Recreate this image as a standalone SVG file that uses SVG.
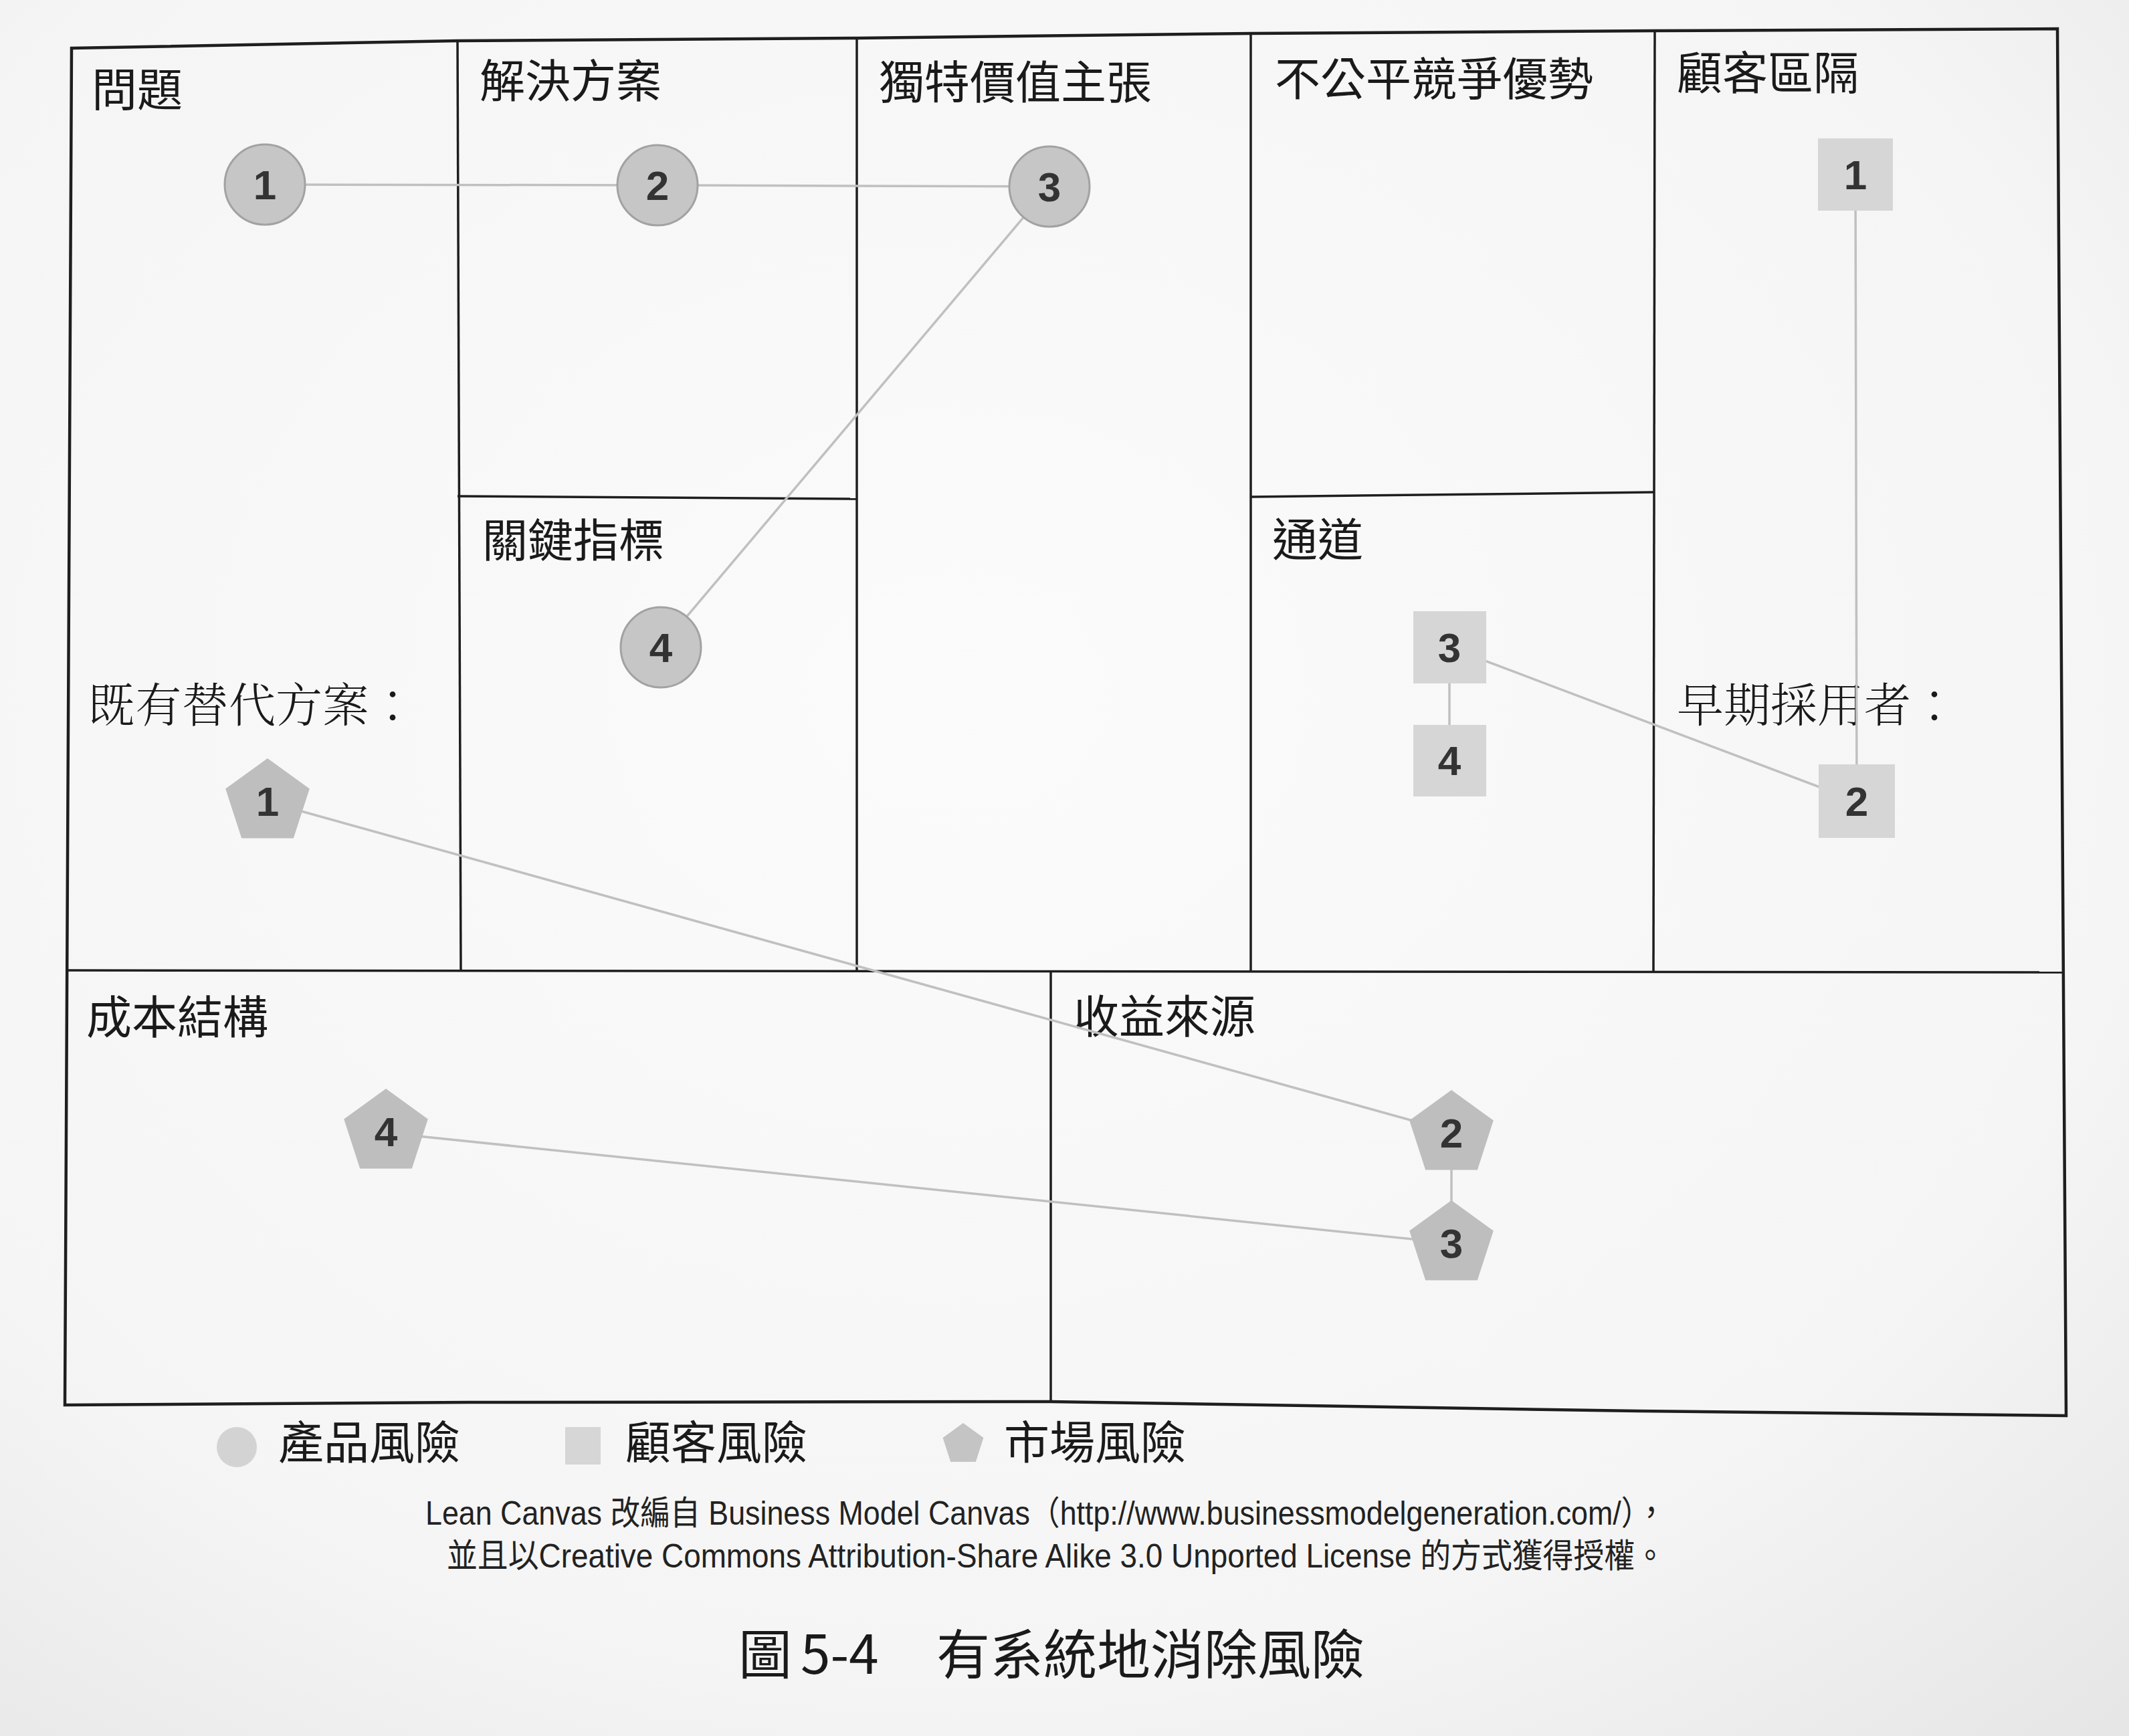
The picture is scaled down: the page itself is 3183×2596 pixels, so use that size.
<svg xmlns="http://www.w3.org/2000/svg" xmlns:xlink="http://www.w3.org/1999/xlink" width="3183" height="2596" viewBox="0 0 3183 2596">
<style>
.frame{fill:none;stroke:#1e1e1e;stroke-width:4.5;stroke-linejoin:miter}
.cell{fill:none;stroke:#1e1e1e;stroke-width:3.5}
.head{font-family:"Noto Sans CJK TC","Noto Sans CJK SC",sans-serif;font-size:68px;font-weight:400;fill:#1a1a1a}
.serif{font-family:"Noto Serif CJK TC","Noto Sans CJK TC","Noto Sans CJK SC",serif;font-size:70px;font-weight:300;fill:#1a1a1a}
.conn{stroke:#c0c0c0;stroke-width:3.5;fill:none}
.circ{fill:#c6c6c6;stroke:#a2a2a2;stroke-width:3}
.sq{fill:#d6d6d6}
.pent{fill:#bebebe}
.num{font-family:"Liberation Sans",Arial,sans-serif;font-size:62px;font-weight:bold;fill:#333;text-anchor:middle}
.leg{font-family:"Noto Sans CJK TC","Noto Sans CJK SC",sans-serif;font-size:68px;fill:#1a1a1a}
.cap{font-family:"Liberation Sans","Noto Sans CJK TC",sans-serif;font-size:50px;fill:#222}
.title{font-family:"Noto Sans CJK TC","Noto Sans CJK SC",sans-serif;font-size:80px;fill:#1a1a1a}
</style>
<defs>
<polygon id="pentShape" points="0,-66 62.8,-20.4 38.8,53.4 -38.8,53.4 -62.8,-20.4"/>
<polygon id="pentSmall" points="0,-32 30.4,-9.9 18.8,25.9 -18.8,25.9 -30.4,-9.9"/>
<radialGradient id="paper" cx="0.45" cy="0.4" r="0.8">
<stop offset="0" stop-color="#fbfbfb"/>
<stop offset="0.7" stop-color="#f5f5f5"/>
<stop offset="1" stop-color="#e6e6e6"/>
</radialGradient>
</defs>
<rect x="0" y="0" width="3183" height="2596" fill="url(#paper)"/>

<g id="canvas-frame">
<path class="frame" d="M107,72 L684,61 L1281,57 L1870,50 L2474,46 L3076,43 L3089,2117 L2450,2110 L1571,2096 L700,2097 L97,2101 Z" fill="#fbfbfb"/>
<line class="cell" x1="100" y1="1451" x2="3085" y2="1454"/>
<line class="cell" x1="684" y1="61" x2="689" y2="1451"/>
<line class="cell" x1="1281" y1="57" x2="1281" y2="1451"/>
<line class="cell" x1="1870" y1="50" x2="1870" y2="1452"/>
<line class="cell" x1="2474" y1="46" x2="2472" y2="1453"/>
<line class="cell" x1="684" y1="742" x2="1281" y2="746"/>
<line class="cell" x1="1870" y1="743" x2="2473" y2="736"/>
<line class="cell" x1="1571" y1="1451" x2="1571" y2="2096"/>
</g>

<g id="headings">
<text class="head" x="137" y="159">問題</text>
<text class="head" x="717" y="146">解決方案</text>
<text class="head" x="1314" y="148">獨特價值主張</text>
<text class="head" x="1906" y="143">不公平競爭優勢</text>
<text class="head" x="2507" y="134">顧客區隔</text>
<text class="head" x="721" y="833">關鍵指標</text>
<text class="head" x="1902" y="832">通道</text>
<text class="head" x="129" y="1546">成本結構</text>
<text class="head" x="1605" y="1545">收益來源</text>
<text class="serif" x="132" y="1080">既有替代方案：</text>
<text class="serif" x="2507" y="1080">早期採用者：</text>
</g>

<g id="connectors">
<line class="conn" x1="396" y1="276" x2="983" y2="277"/>
<line class="conn" x1="983" y1="277" x2="1569" y2="279"/>
<line class="conn" x1="1569" y1="279" x2="988" y2="968"/>
<line class="conn" x1="2774" y1="261" x2="2776" y2="1198"/>
<line class="conn" x1="2167" y1="968" x2="2167" y2="1137"/>
<line class="conn" x1="2167" y1="968" x2="2776" y2="1198"/>
<line class="conn" x1="400" y1="1199" x2="2170" y2="1692"/>
<line class="conn" x1="2170" y1="1696" x2="2170" y2="1861"/>
<line class="conn" x1="577" y1="1694" x2="2170" y2="1859"/>
</g>

<g id="product-risk-1"><circle class="circ" cx="396" cy="276" r="60"/><text class="num" x="396" y="298">1</text></g>
<g id="product-risk-2"><circle class="circ" cx="983" cy="277" r="60"/><text class="num" x="983" y="299">2</text></g>
<g id="product-risk-3"><circle class="circ" cx="1569" cy="279" r="60"/><text class="num" x="1569" y="301">3</text></g>
<g id="product-risk-4"><circle class="circ" cx="988" cy="968" r="60"/><text class="num" x="988" y="990">4</text></g>

<g id="customer-risk-1"><rect class="sq" x="2718" y="207" width="112" height="108"/><text class="num" x="2774" y="283">1</text></g>
<g id="customer-risk-2"><rect class="sq" x="2719" y="1143" width="114" height="110"/><text class="num" x="2776" y="1220">2</text></g>
<g id="customer-risk-3"><rect class="sq" x="2113" y="914" width="109" height="108"/><text class="num" x="2167" y="990">3</text></g>
<g id="customer-risk-4"><rect class="sq" x="2113" y="1084" width="109" height="107"/><text class="num" x="2167" y="1159">4</text></g>

<g id="market-risk-1"><use href="#pentShape" class="pent" x="400" y="1200"/><text class="num" x="400" y="1220">1</text></g>
<g id="market-risk-2"><use href="#pentShape" class="pent" x="2170" y="1696"/><text class="num" x="2170" y="1716">2</text></g>
<g id="market-risk-3"><use href="#pentShape" class="pent" x="2170" y="1861"/><text class="num" x="2170" y="1881">3</text></g>
<g id="market-risk-4"><use href="#pentShape" class="pent" x="577" y="1694"/><text class="num" x="577" y="1714">4</text></g>

<g id="legend">
<circle cx="354" cy="2164" r="30" fill="#d3d3d3"/>
<text class="leg" x="416" y="2182">產品風險</text>
<rect x="845" y="2134" width="53" height="56" fill="#d6d6d6"/>
<text class="leg" x="935" y="2182">顧客風險</text>
<use href="#pentSmall" x="1440" y="2160" fill="#c4c4c4"/>
<text class="leg" x="1501" y="2182">市場風險</text>
</g>

<g id="caption">
<text class="cap" x="636" y="2280" textLength="1855" lengthAdjust="spacingAndGlyphs">Lean Canvas 改編自 Business Model Canvas（http://www.businessmodelgeneration.com/），</text>
<text class="cap" x="668" y="2344" textLength="1822" lengthAdjust="spacingAndGlyphs">並且以Creative Commons Attribution-Share Alike 3.0 Unported License 的方式獲得授權。</text>
<text class="title" y="2503"><tspan x="1104">圖</tspan><tspan x="1197">5-4</tspan><tspan x="1400">有系統地消除風險</tspan></text>
</g>
</svg>
